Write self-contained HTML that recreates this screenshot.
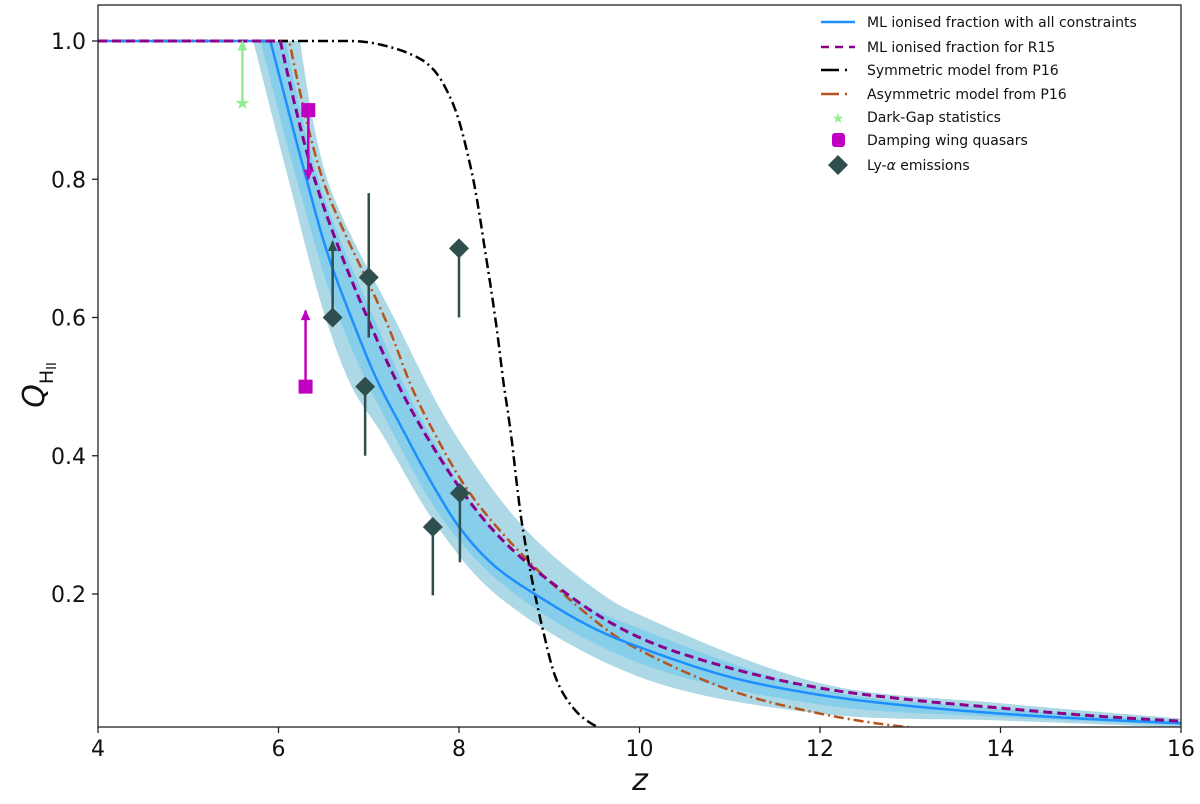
<!DOCTYPE html>
<html><head><meta charset="utf-8"><style>
body{margin:0;background:#fff;}
svg text{font-family:"DejaVu Sans","Liberation Sans",sans-serif;}
</style></head><body>
<svg id="chart" width="1200" height="799" viewBox="0 0 1200 799" xmlns="http://www.w3.org/2000/svg">
<g id="bands"></g>
<g id="lines"></g>
<g id="points"></g>
<g id="axes"></g>
<g id="legend"></g>
</svg>
<script>
// ---- data ----
const xTicks = [4, 6, 8, 10, 12, 14, 16];
const yTicks = [0.2, 0.4, 0.6, 0.8, 1.0];
const yTickLabels = ["0.2", "0.4", "0.6", "0.8", "1.0"];
const mlAllZ = [4, 5.91, 6.31, 6.55, 6.83, 7.09, 7.38, 7.7, 8.03, 8.4, 8.9, 9.5, 10, 11, 12, 13, 14, 15, 16];
const mlAllQ = [1, 1, 0.8, 0.69, 0.592, 0.51, 0.437, 0.36, 0.292, 0.24, 0.195, 0.15, 0.123, 0.08, 0.054, 0.038, 0.027, 0.019, 0.013];
const r15Z = [4, 6.02, 6.40, 7.01, 7.6, 8.38, 9.25, 10, 11, 12, 13, 14, 15, 16];
const r15Q = [1, 1, 0.8, 0.592, 0.437, 0.292, 0.195, 0.137, 0.093, 0.064, 0.047, 0.035, 0.024, 0.016];
const symZ = [4, 6.5, 7.05, 7.64, 7.9, 8.12, 8.31, 8.42, 8.49, 8.57, 8.71, 8.93, 9.1, 9.3, 9.5, 9.7];
const symQ = [1, 1, 0.997, 0.968, 0.919, 0.823, 0.679, 0.582, 0.509, 0.437, 0.292, 0.148, 0.07, 0.03, 0.01, 0.0];
const asymZ = [4, 6.12, 6.49, 7.2, 7.49, 7.71, 8.12, 8.79, 9.64, 10, 11, 12, 13, 14];
const asymQ = [1, 1, 0.8, 0.592, 0.495, 0.437, 0.346, 0.245, 0.148, 0.119, 0.061, 0.027, 0.007, 0.0];
const outerUpZ = [4, 6.24, 6.54, 7.31, 7.93, 8.75, 9.64, 10, 12, 14, 16];
const outerUpQ = [1, 1, 0.8, 0.592, 0.437, 0.292, 0.195, 0.17, 0.071, 0.042, 0.02];
const outerLoZ = [4, 5.72, 6.11, 6.52, 6.83, 7.12, 7.79, 8.45, 10, 12, 14, 16];
const outerLoQ = [1, 1, 0.8, 0.6, 0.495, 0.437, 0.292, 0.195, 0.08, 0.027, 0.017, 0.007];
const innerUpZ = [4, 6.08, 6.44, 7.08, 7.65, 8.38, 9.25, 10, 12, 14, 16];
const innerUpQ = [1, 1, 0.8, 0.592, 0.437, 0.292, 0.195, 0.15, 0.062, 0.034, 0.016];
const innerLoZ = [4, 5.8, 6.2, 6.67, 7.25, 7.91, 8.67, 10, 12, 14, 16];
const innerLoQ = [1, 1, 0.8, 0.6, 0.437, 0.292, 0.195, 0.10, 0.04, 0.022, 0.01];
const gapZ = [5.6], gapQ = [0.91], gapTo = [1.0];
const dampZ = [6.33, 6.3], dampQ = [0.90, 0.50], dampTo = [0.80, 0.61];
const lyaZ = [6.6, 7.0, 6.96, 7.71, 8.01, 8.0];
const lyaQ = [0.60, 0.658, 0.50, 0.297, 0.346, 0.70];
const lyaLo = [0.60, 0.571, 0.40, 0.198, 0.246, 0.60];
const lyaHi = [0.71, 0.78, 0.50, 0.297, 0.346, 0.70];
const lyaArrow = [true, false, false, false, false, false];

// ---- axes ----
const X0 = 98, X1 = 1181, YB = 727, YT = 5;
const sx = z => X0 + (z - 4) * (X1 - X0) / 12;
const sy = q => 594 - (q - 0.2) * 691.25;
const NS = "http://www.w3.org/2000/svg";
function mk(tag, attrs, parent) {
  const e = document.createElementNS(NS, tag);
  for (const k in attrs) e.setAttribute(k, attrs[k]);
  parent.appendChild(e); return e;
}
const clip = document.createElementNS(NS, "clipPath");
clip.setAttribute("id", "pc");
mk("rect", {x: X0, y: YT, width: X1 - X0, height: YB - YT}, clip);
document.getElementById("chart").prepend(clip);
const bands = document.getElementById("bands"), lines = document.getElementById("lines"),
  pts = document.getElementById("points"), axes = document.getElementById("axes"), leg = document.getElementById("legend");
bands.setAttribute("clip-path", "url(#pc)");
lines.setAttribute("clip-path", "url(#pc)");

// centripetal Catmull-Rom spline, with straight flat part up to the knee
function spline(P) {
  const n = P.length, top = sy(1), out = [];
  for (let i = 0; i < n - 1; i++) {
    const p0 = P[Math.max(0, i - 1)], p1 = P[i], p2 = P[i + 1], p3 = P[Math.min(n - 1, i + 2)];
    const td = (a, b) => Math.max(1e-3, Math.pow(Math.hypot(b[0] - a[0], b[1] - a[1]), 0.5));
    const t0 = 0, t1 = t0 + td(p0, p1), t2 = t1 + td(p1, p2), t3 = t2 + td(p2, p3);
    const N = Math.max(4, Math.ceil(Math.hypot(p2[0] - p1[0], p2[1] - p1[1]) / 3));
    for (let k = 0; k < N; k++) {
      const t = t1 + (t2 - t1) * k / N;
      const L = (a, b, ta, tb) => [a[0] * (tb - t) / (tb - ta) + b[0] * (t - ta) / (tb - ta), a[1] * (tb - t) / (tb - ta) + b[1] * (t - ta) / (tb - ta)];
      const A1 = L(p0, p1, t0, t1), A2 = L(p1, p2, t1, t2), A3 = L(p2, p3, t2, t3);
      const B1 = L(A1, A2, t0, t2), B2 = L(A2, A3, t1, t3);
      const C = L(B1, B2, t1, t2);
      out.push([C[0], Math.max(top, C[1])]);
    }
  }
  out.push(P[n - 1]);
  return out;
}
function smoothPts(zs, qs) {
  const P = zs.map((z, i) => [sx(z), sy(qs[i])]);
  let k = 0;
  while (k + 1 < qs.length && qs[k + 1] >= 1) k++;
  return [P[0]].concat(spline(P.slice(k)));
}
const toD = p => p.map((q, i) => (i ? "L" : "M") + q[0].toFixed(1) + "," + q[1].toFixed(1)).join("");
function pathOf(zs, qs) { return toD(smoothPts(zs, qs)); }
function bandPath(uz, uq, lz, lq) {
  const a = smoothPts(uz, uq), b = smoothPts(lz, lq).reverse();
  return toD(a.concat(b)) + "Z";
}
let b = mk("path", {d: bandPath(outerUpZ, outerUpQ, outerLoZ, outerLoQ), fill: "#add8e6"}, bands);


b = mk("path", {d: bandPath(innerUpZ, innerUpQ, innerLoZ, innerLoQ), fill: "#87ceeb"}, bands);



let l = mk("path", {d: pathOf(asymZ, asymQ), fill: "none", stroke: "#b5541c", "stroke-width": 2.5, "stroke-dasharray": "10,4,2,4"}, lines);


l = mk("path", {d: pathOf(symZ, symQ), fill: "none", stroke: "#000", "stroke-width": 2.5, "stroke-dasharray": "10,4,2,4"}, lines);


l = mk("path", {d: pathOf(mlAllZ, mlAllQ), fill: "none", stroke: "#1e8fff", "stroke-width": 2.5}, lines);


l = mk("path", {d: pathOf(r15Z, r15Q), fill: "none", stroke: "#8b008b", "stroke-width": 3, "stroke-dasharray": "9,5"}, lines);



function arrowHead(x, y, dir, color) {
  return mk("path", {d: `M${x-4},${y+dir*9}L${x},${y}L${x+4},${y+dir*9}Z`, fill: color, stroke: color, "stroke-width": 1}, pts);
}
gapZ.forEach((z, i) => {
  const x = sx(z), y = sy(gapQ[i]), yt = sy(gapTo[i]);
  let e = mk("line", {x1: x, y1: y, x2: x, y2: yt + 2, stroke: "#90ee90", "stroke-width": 2.5}, pts);
  
  
  e = arrowHead(x, yt, 1, "#90ee90");
  
  
  e = mk("text", {x: x, y: y + 6, "text-anchor": "middle", "font-size": 18, fill: "#90ee90"}, pts);
  e.textContent = "★";
  
  
});
dampZ.forEach((z, i) => {
  const x = sx(z), y = sy(dampQ[i]), yt = sy(dampTo[i]);
  const dir = yt > y ? -1 : 1;
  let e = mk("line", {x1: x, y1: y, x2: x, y2: yt, stroke: "#c000c0", "stroke-width": 2.5}, pts);
  
  
  e = arrowHead(x, yt, dir, "#c000c0");
  
  
  e = mk("rect", {x: x - 7, y: y - 7, width: 14, height: 14, fill: "#c000c0"}, pts);
  
  
});
lyaZ.forEach((z, i) => {
  const x = sx(z), y = sy(lyaQ[i]);
  let e = mk("line", {x1: x, y1: sy(lyaLo[i]), x2: x, y2: sy(lyaHi[i]), stroke: "#2f4f4f", "stroke-width": 2.5}, pts);
  
  
  if (lyaArrow[i]) {
    e = arrowHead(x, sy(lyaHi[i]), 1, "#2f4f4f");
    
    
  }
  e = mk("path", {d: `M${x},${y-10}L${x+10},${y}L${x},${y+10}L${x-10},${y}Z`, fill: "#2f4f4f"}, pts);
  
  
});

// frame
let f = mk("rect", {x: X0, y: YT, width: X1 - X0, height: YB - YT, fill: "none", stroke: "#222", "stroke-width": 1.3}, axes);


xTicks.forEach(t => {
  const x = sx(t);
  let e = mk("line", {x1: x, y1: YB, x2: x, y2: YB + 6, stroke: "#222", "stroke-width": 1.3}, axes);
  
  
  e = mk("text", {x: x, y: 756, "text-anchor": "middle", "font-size": 22, fill: "#111"}, axes);
  e.textContent = t;
  
  
});
yTicks.forEach((t, i) => {
  const y = sy(t);
  let e = mk("line", {x1: X0 - 6, y1: y, x2: X0, y2: y, stroke: "#222", "stroke-width": 1.3}, axes);
  
  
  e = mk("text", {x: 86, y: y + 8, "text-anchor": "end", "font-size": 22, fill: "#111"}, axes);
  e.textContent = yTickLabels[i];
  
  
});
let t = mk("text", {x: 640, y: 790, "text-anchor": "middle", "font-size": 30, "font-style": "italic", fill: "#111"}, axes);
t.textContent = "z";


t = mk("text", {transform: "translate(44,385) rotate(-90)", "text-anchor": "middle", "font-size": 30, fill: "#111"}, axes);
t.innerHTML = '<tspan font-style="italic">Q</tspan><tspan font-size="19" dy="9">H</tspan><tspan font-size="13" dy="3">II</tspan>';



// legend
const legLabels = ["ML ionised fraction with all constraints", "ML ionised fraction for R15", "Symmetric model from P16", "Asymmetric model from P16", "Dark-Gap statistics", "Damping wing quasars", "Ly-α emissions"];
const legY = [27, 52, 75, 99, 122, 145, 170];
legLabels.forEach((s, i) => {
  const y = legY[i], g = mk("g", {}, leg);
  
  
  if (i === 0) mk("line", {x1: 821, y1: y - 5, x2: 855, y2: y - 5, stroke: "#1e8fff", "stroke-width": 2.5}, g);
  if (i === 1) mk("line", {x1: 821, y1: y - 5, x2: 855, y2: y - 5, stroke: "#8b008b", "stroke-width": 2.5, "stroke-dasharray": "8,6"}, g);
  if (i === 2 || i === 3) mk("line", {x1: 821, y1: y - 5, x2: 855, y2: y - 5, stroke: i === 2 ? "#000" : "#b5541c", "stroke-width": 2.5, "stroke-dasharray": "18,6,2,20"}, g);
  if (i === 4) { mk("text", {x: 838, y: y + 1, "text-anchor": "middle", "font-size": 14, fill: "#90ee90"}, g).textContent = "★"; }
  if (i === 5) mk("rect", {x: 832, y: y - 12, width: 13, height: 14, rx: 3, fill: "#c000c0"}, g);
  if (i === 6) mk("path", {d: `M838,${y-15}L848,${y-5}L838,${y+5}L828,${y-5}Z`, fill: "#2f4f4f"}, g);
  const tx = mk("text", {x: 867, y: y, "font-size": 14, fill: "#111"}, g);
  if (i === 6) tx.innerHTML = 'Ly-<tspan font-style="italic">α</tspan> emissions'; else tx.textContent = s;
});
</script>
</body></html>
